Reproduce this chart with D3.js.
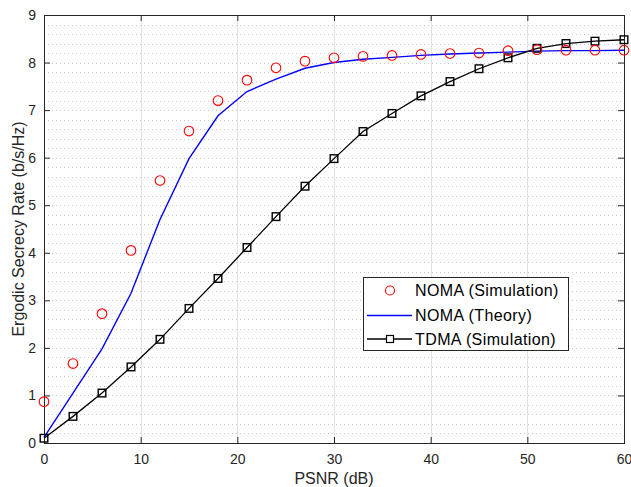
<!DOCTYPE html>
<html>
<head>
<meta charset="utf-8">
<script src="https://cdn.jsdelivr.net/npm/d3@7"></script>
<style>
  body { margin: 0; background: #fff; }
  text { font-family: "Liberation Sans", Arial, sans-serif; }
</style>
</head>
<body>
<div id="chart"></div>
<script>
// data
const psnr = [0, 3, 6, 9, 12, 15, 18, 21, 24, 27, 30, 33, 36, 39, 42, 45, 48, 51, 54, 57, 60];
const nomaSim = [0.87, 1.67, 2.72, 4.05, 5.52, 6.56, 7.2, 7.63, 7.89, 8.03, 8.1, 8.13, 8.15, 8.17, 8.19, 8.2, 8.25, 8.27, 8.26, 8.26, 8.26];
const nomaTheory = [0.12, 1.05, 1.98, 3.15, 4.7, 5.98, 6.88, 7.39, 7.65, 7.88, 8.0, 8.07, 8.11, 8.15, 8.18, 8.2, 8.22, 8.24, 8.25, 8.25, 8.26];
const tdmaSim = [0.1, 0.56, 1.05, 1.6, 2.18, 2.83, 3.46, 4.11, 4.76, 5.4, 5.98, 6.55, 6.93, 7.3, 7.6, 7.87, 8.1, 8.3, 8.4, 8.45, 8.48];
const xTicks = [0, 10, 20, 30, 40, 50, 60];
const yTicks = [0, 1, 2, 3, 4, 5, 6, 7, 8, 9];
const legendLabels = ["NOMA (Simulation)", "NOMA (Theory)", "TDMA (Simulation)"];

const W = 631, H = 487;
const margin = {left: 44, right: 7, top: 15, bottom: 44};
const iw = W - margin.left - margin.right;
const ih = H - margin.top - margin.bottom;

const svg = d3.select("#chart").append("svg")
  .attr("width", W).attr("height", H);

const x = d3.scaleLinear().domain([0, 60]).range([0, iw]);
const y = d3.scaleLinear().domain([0, 9]).range([ih, 0]);

const g = svg.append("g").attr("transform", `translate(${margin.left},${margin.top})`);

// dotted horizontal grid every 0.2
const minorY = d3.range(0, 9.001, 0.2).slice(1, -1);
g.selectAll(".hgrid").data(minorY).join("line")
  .attr("x1", 0).attr("x2", iw)
  .attr("y1", d => Math.round(y(d)) + 0.5).attr("y2", d => Math.round(y(d)) + 0.5)
  .attr("stroke", "#c8c8c8").attr("stroke-width", 1)
  .attr("stroke-dasharray", "1,3");

// solid vertical grid at major ticks
g.selectAll(".vgrid").data(xTicks.slice(1, -1)).join("line")
  .attr("x1", d => Math.round(x(d)) + 0.5).attr("x2", d => Math.round(x(d)) + 0.5)
  .attr("y1", 0).attr("y2", ih)
  .attr("stroke", "#e2e2e2").attr("stroke-width", 1);

// axes (ticks inward, mirrored)
function styleAxis(sel) {
  sel.select(".domain").remove();
  sel.selectAll(".tick line").attr("stroke", "#262626");
  sel.selectAll(".tick text").attr("fill", "#262626")
    .style("font-size", "14px").style("font-family", "Liberation Sans, Arial, sans-serif");
}
g.append("g").attr("transform", `translate(0,${ih})`)
  .call(d3.axisBottom(x).tickValues(xTicks).tickSize(-6).tickPadding(11))
  .call(styleAxis);
g.append("g")
  .call(d3.axisTop(x).tickValues(xTicks).tickSize(-6).tickFormat(""))
  .call(styleAxis);
g.append("g")
  .call(d3.axisLeft(y).tickValues(yTicks).tickSize(-6).tickPadding(8))
  .call(styleAxis);
g.append("g").attr("transform", `translate(${iw},0)`)
  .call(d3.axisRight(y).tickValues(yTicks).tickSize(-6).tickFormat(""))
  .call(styleAxis);

g.append("rect").attr("x", 0.5).attr("y", 0.5).attr("width", iw).attr("height", ih)
  .attr("fill", "none").attr("stroke", "#262626").attr("stroke-width", 1);

// series
const line = d3.line().x(d => x(d[0])).y(d => y(d[1]));

g.append("path").datum(psnr.map((p, i) => [p, nomaTheory[i]]))
  .attr("d", line).attr("fill", "none").attr("stroke", "#0000ff").attr("stroke-width", 1.4);

const tdma = psnr.map((p, i) => [p, tdmaSim[i]]);
g.append("path").datum(tdma)
  .attr("d", line).attr("fill", "none").attr("stroke", "#000").attr("stroke-width", 1.3);
g.selectAll(".sq").data(tdma).join("rect")
  .attr("x", d => x(d[0]) - 3.8).attr("y", d => y(d[1]) - 3.8)
  .attr("width", 7.6).attr("height", 7.6)
  .attr("fill", "none").attr("stroke", "#000").attr("stroke-width", 1.4);

g.selectAll(".circ").data(psnr.map((p, i) => [p, nomaSim[i]])).join("circle")
  .attr("cx", d => x(d[0])).attr("cy", d => y(d[1])).attr("r", 4.8)
  .attr("fill", "none").attr("stroke", "#ff0000").attr("stroke-width", 1.1);

// axis labels
svg.append("text").attr("x", margin.left + iw / 2).attr("y", 484)
  .attr("text-anchor", "middle").attr("fill", "#262626").style("font-size", "16px")
  .text("PSNR (dB)");
svg.append("text").attr("transform", `translate(24,${margin.top + ih / 2}) rotate(-90)`)
  .attr("text-anchor", "middle").attr("fill", "#262626").style("font-size", "16px")
  .text("Ergodic Secrecy Rate (b/s/Hz)");

// legend
const lg = svg.append("g").attr("transform", "translate(363,277)");
lg.append("rect").attr("x", 0.5).attr("y", 0.5).attr("width", 205).attr("height", 73)
  .attr("fill", "#fff").attr("stroke", "#262626").attr("stroke-width", 1);
const rowY = [13.5, 38.5, 62];
legendLabels.forEach((lab, i) => {
  const ry = rowY[i];
  if (i === 0) {
    lg.append("circle").attr("cx", 27).attr("cy", ry).attr("r", 4.5)
      .attr("fill", "none").attr("stroke", "#ff0000").attr("stroke-width", 1.1);
  } else {
    lg.append("line").attr("x1", 4).attr("x2", 49).attr("y1", ry).attr("y2", ry)
      .attr("stroke", i === 1 ? "#0000ff" : "#000").attr("stroke-width", 1.3);
    if (i === 2) {
      lg.append("rect").attr("x", 23.5).attr("y", ry - 3.5).attr("width", 7).attr("height", 7)
        .attr("fill", "#fff").attr("stroke", "#000").attr("stroke-width", 1.2);
    }
  }
  lg.append("text").attr("x", 52).attr("y", ry).attr("dy", "0.36em")
    .attr("fill", "#000").style("font-size", "16px").style("letter-spacing", "0.4px").text(lab);
});
</script>
</body>
</html>
